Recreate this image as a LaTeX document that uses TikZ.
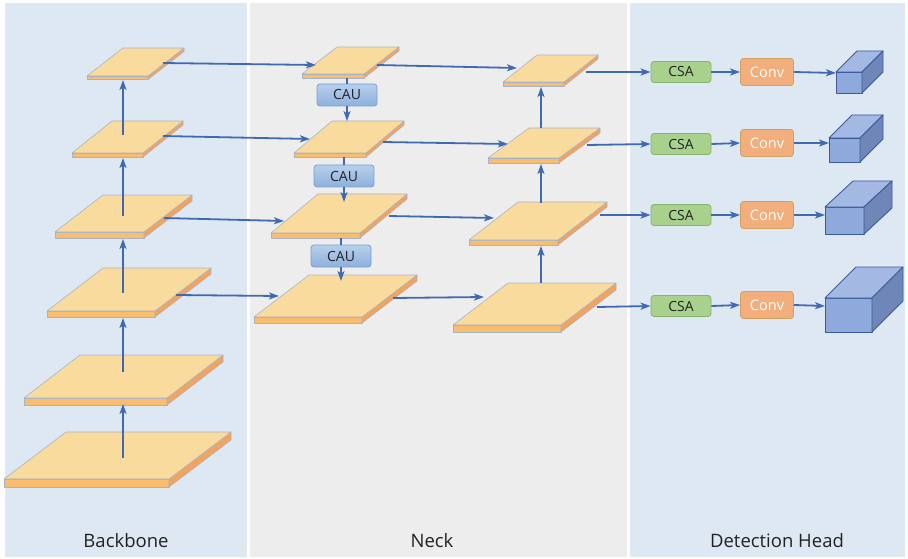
\documentclass[tikz,border=0pt]{standalone}
\usepackage{fontspec}
\setmainfont{Open Sans}
\usetikzlibrary{arrows.meta}

\definecolor{panelblue}{HTML}{DEE8F3}
\definecolor{panelgray}{HTML}{EDEDED}
\definecolor{platetop}{HTML}{F9DB9D}
\definecolor{platefront}{HTML}{F8BD6F}
\definecolor{plateside}{HTML}{F2A35E}
\definecolor{plateline}{HTML}{A9B3C6}
\definecolor{arrowblue}{HTML}{4069B4}
\definecolor{cautop}{HTML}{B7CFEC}
\definecolor{caubot}{HTML}{8EB0DC}
\definecolor{cauline}{HTML}{74A0D3}
\definecolor{csafill}{HTML}{A9D18E}
\definecolor{csaline}{HTML}{86B46C}
\definecolor{convfill}{HTML}{F2AE7D}
\definecolor{convline}{HTML}{CFA15E}
\definecolor{cubefront}{HTML}{8EA9DB}
\definecolor{cubetop}{HTML}{A3B8E3}
\definecolor{cubeside}{HTML}{6F86B8}
\definecolor{cubeline}{HTML}{3B5B9C}
\definecolor{textdark}{HTML}{222222}

\tikzset{
  arr/.style={draw=arrowblue,line width=1.8pt,-{Stealth[length=10pt,width=7pt,inset=2.5pt]}},
  link/.style={draw=arrowblue,line width=1.8pt},
  platestyle/.style={draw=plateline,line width=0.6pt,line join=round},
  caubox/.style={rectangle,rounded corners=3pt,draw=cauline,line width=0.8pt,
    top color=cautop,bottom color=caubot,minimum width=60pt,minimum height=22pt,
    inner sep=0pt,font=\fontsize{14}{16}\selectfont,text=textdark},
  csabox/.style={rectangle,rounded corners=3pt,draw=csaline,line width=0.8pt,
    fill=csafill,minimum width=60pt,minimum height=21pt,inner sep=0pt,
    font=\fontsize{14}{16}\selectfont,text=textdark},
  convbox/.style={rectangle,rounded corners=3pt,draw=convline,line width=0.8pt,
    fill=convfill,minimum width=53pt,minimum height=27pt,inner sep=0pt,
    font=\fontsize{14.5}{16}\selectfont,text=white},
  cubestyle/.style={draw=cubeline,line width=0.9pt,line join=round},
  paneltext/.style={font=\fontsize{18.5}{22}\selectfont,text=textdark}
}

% plate: #1 name, #2 xl, #3 xr, #4 yb, #5 dx, #6 h, #7 thickness
\newcommand\myplate[7]{%
  \filldraw[platestyle,fill=platefront] (#2,#4) rectangle (#3,#4+#7);
  \filldraw[platestyle,fill=plateside] (#3,#4) -- (#3+#5,#4-#6) -- (#3+#5,#4-#6+#7) -- (#3,#4+#7) -- cycle;
  \filldraw[platestyle,fill=platetop] (#2,#4) -- (#3,#4) -- (#3+#5,#4-#6) -- (#2+#5,#4-#6) -- cycle;
  \coordinate (#1) at ({(#2+#3+#5)/2},{#4-#6/2});
}
% cube: #1 name, #2 x1, #3 y1, #4 x2, #5 y2, #6 dx, #7 dy
\newcommand\mycube[7]{%
  \filldraw[cubestyle,fill=cubefront] (#2,#3) rectangle (#4,#5);
  \filldraw[cubestyle,fill=cubetop] (#2,#3) -- (#2+#6,#3-#7) -- (#4+#6,#3-#7) -- (#4,#3) -- cycle;
  \filldraw[cubestyle,fill=cubeside] (#4,#3) -- (#4+#6,#3-#7) -- (#4+#6,#5-#7) -- (#4,#5) -- cycle;
}

\begin{document}
\begin{tikzpicture}[x=1pt,y=-1pt]
\useasboundingbox (0,0) rectangle (908,559);
\fill[white] (0,0) rectangle (908,559);
% panels
\fill[panelblue] (5,3) rectangle (247,557);
\fill[panelgray] (250,3) rectangle (627,557);
\fill[panelblue] (630,3) rectangle (905,557);

% backbone plates
\myplate{b6}{4}{169}{479}{62}{47}{8}
\myplate{b5}{24}{167}{398}{56}{43}{7}
\myplate{b4}{47}{155}{311}{56}{43}{6}
\myplate{b3}{55}{144}{232}{48}{37}{6}
\myplate{b2}{72}{143}{153}{40}{32}{4}
\myplate{b1}{87}{148}{76}{36}{28}{3.5}

% neck plates, column 1
\myplate{n1}{302}{364}{74}{35}{27}{4}
\myplate{n2}{294}{366}{153}{38}{32}{4}
\myplate{n3}{271}{360}{233}{47}{39}{5}
\myplate{n4}{254}{362}{317}{55}{42}{6}

% neck plates, column 2
\myplate{p1}{503}{564}{82}{34}{27}{4}
\myplate{p2}{488}{559}{158}{41}{30}{5}
\myplate{p3}{469}{558}{240}{49}{38}{5}
\myplate{p4}{453}{561}{325}{55}{42}{7}

% CAU boxes
\node[caubox] (cau1) at (347,95) {CAU};
\node[caubox] (cau2) at (344,176) {CAU};
\node[caubox] (cau3) at (341,256) {CAU};

% head boxes
\node[csabox] (csa1) at (681,72) {CSA};
\node[csabox] (csa2) at (681,144) {CSA};
\node[csabox] (csa3) at (681,215) {CSA};
\node[csabox] (csa4) at (681,306) {CSA};
\node[convbox] (conv1) at (767,72) {Conv};
\node[convbox] (conv2) at (767,143) {Conv};
\node[convbox] (conv3) at (767,215) {Conv};
\node[convbox] (conv4) at (767,305) {Conv};

% cubes
\mycube{c1}{836}{72}{862}{93}{21}{21}
\mycube{c2}{829}{138}{860}{162}{23}{23}
\mycube{c3}{825}{207}{864}{234}{28}{26}
\mycube{c4}{825}{298}{872}{332}{31}{31}
\coordinate (c1in) at (836,73);
\coordinate (c2in) at (829,143);
\coordinate (c3in) at (825,215);
\coordinate (c4in) at (825,306);

% backbone vertical arrows
\coordinate (b6u) at (123,458); \coordinate (b5d) at (123,404);
\coordinate (b5u) at (123,372); \coordinate (b4d) at (123,318);
\coordinate (b4u) at (123,293); \coordinate (b3d) at (123,239);
\coordinate (b3u) at (123,216); \coordinate (b2d) at (123,158);
\coordinate (b2u) at (123,135); \coordinate (b1d) at (123,80);
\draw[arr] (b6u) -- (b5d);
\draw[arr] (b5u) -- (b4d);
\draw[arr] (b4u) -- (b3d);
\draw[arr] (b3u) -- (b2d);
\draw[arr] (b2u) -- (b1d);

% backbone -> neck
\coordinate (b1r) at (163,63);  \coordinate (n1l) at (316,65);
\coordinate (b2r) at (163,136); \coordinate (n2l) at (310,139);
\coordinate (b3r) at (164,218); \coordinate (n3l) at (284,221);
\coordinate (b4r) at (176,295); \coordinate (n4l) at (279,296);
\draw[arr] (b1r) -- (n1l);
\draw[arr] (b2r) -- (n2l);
\draw[arr] (b3r) -- (n3l);
\draw[arr] (b4r) -- (n4l);

% neck top-down through CAU
\coordinate (n1b) at (347,78);  \coordinate (n2t) at (347,121);
\coordinate (n2b) at (344,157); \coordinate (n3t) at (344,202);
\coordinate (n3b) at (341,238); \coordinate (n4t) at (341,281);
\draw[link] (n1b) -- (cau1.north);
\draw[arr] (cau1.south) -- (n2t);
\draw[link] (n2b) -- (cau2.north);
\draw[arr] (cau2.south) -- (n3t);
\draw[link] (n3b) -- (cau3.north);
\draw[arr] (cau3.south) -- (n4t);

% neck col1 -> col2
\coordinate (n1r) at (377,65);  \coordinate (p1l) at (517,68);
\coordinate (n2r) at (383,142); \coordinate (p2l) at (508,144);
\coordinate (n3r) at (389,216); \coordinate (p3l) at (494,218);
\coordinate (n4r) at (393,298); \coordinate (p4l) at (484,297);
\draw[arr] (n1r) -- (p1l);
\draw[arr] (n2r) -- (p2l);
\draw[arr] (n3r) -- (p3l);
\draw[arr] (n4r) -- (p4l);

% col2 bottom-up
\coordinate (p4u) at (541,283); \coordinate (p3d) at (541,246);
\coordinate (p3u) at (541,203); \coordinate (p2d) at (541,164);
\coordinate (p2u) at (541,128); \coordinate (p1d) at (541,87);
\draw[arr] (p4u) -- (p3d);
\draw[arr] (p3u) -- (p2d);
\draw[arr] (p2u) -- (p1d);

% col2 -> head
\coordinate (p1r) at (586,72);
\coordinate (p2r) at (587,145);
\coordinate (p3r) at (600,215);
\coordinate (p4r) at (597,307);
\draw[arr] (p1r) -- (csa1.west);
\draw[arr] (p2r) -- (csa2.west);
\draw[arr] (p3r) -- (csa3.west);
\draw[arr] (p4r) -- (csa4.west);
\draw[arr] (csa1.east) -- (conv1.west);
\draw[arr] (csa2.east) -- (conv2.west);
\draw[arr] (csa3.east) -- (conv3.west);
\draw[arr] (csa4.east) -- (conv4.west);
\draw[arr] (conv1.east) -- (c1in);
\draw[arr] (conv2.east) -- (c2in);
\draw[arr] (conv3.east) -- (c3in);
\draw[arr] (conv4.east) -- (c4in);

% panel titles
\node[paneltext] (tb) at (126,541) {Backbone};
\node[paneltext] (tn) at (432,541) {Neck};
\node[paneltext] (th) at (777,541) {Detection Head};
\end{tikzpicture}
\end{document}
